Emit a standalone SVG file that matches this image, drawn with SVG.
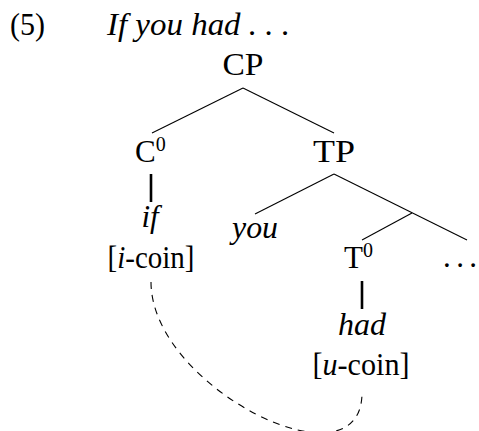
<svg xmlns="http://www.w3.org/2000/svg" width="479" height="431" viewBox="0 0 479 431">
<style>
text{font-family:"Liberation Serif","DejaVu Serif",serif;font-size:31px;fill:#000}
.it{font-style:italic}
.sup{font-size:20px}
.thin{stroke:#000;stroke-width:1.1;fill:none}
.thick{stroke:#000;stroke-width:2.6;fill:none}
.dash{stroke:#000;stroke-width:1.1;fill:none;stroke-dasharray:7 6}
</style>
<rect width="479" height="431" fill="#fff"/>
<g id="title">
<text x="10" y="35" textLength="35" lengthAdjust="spacingAndGlyphs">(5)</text>
<text x="107" y="35" class="it" textLength="183" lengthAdjust="spacingAndGlyphs">If you had . . .</text>
</g>
<g id="connectors">
<line class="thin" x1="243" y1="88" x2="152" y2="133"/>
<line class="thin" x1="243" y1="88" x2="334" y2="133"/>
<line class="thin" x1="334" y1="174" x2="255" y2="214"/>
<line class="thin" x1="334" y1="174" x2="467" y2="240"/>
<line class="thin" x1="412" y1="213" x2="362" y2="240"/>
<line class="thick" x1="151" y1="174" x2="151" y2="202"/>
<line class="thick" x1="362" y1="281" x2="362" y2="309"/>
<path class="dash" d="M151,282 C151,388 362,492 362,393"/>
</g>
<g id="CP"><text x="243" y="75" text-anchor="middle" textLength="41" lengthAdjust="spacingAndGlyphs">CP</text></g>
<g id="C0"><text x="135" y="162">C<tspan class="sup" dy="-11">0</tspan></text></g>
<g id="TP"><text x="334" y="162" text-anchor="middle" textLength="42" lengthAdjust="spacingAndGlyphs">TP</text></g>
<g id="if">
<text x="150" y="227" class="it" text-anchor="middle">if</text>
<text x="151" y="268" text-anchor="middle" textLength="87" lengthAdjust="spacingAndGlyphs">[<tspan class="it">i</tspan>-coin]</text>
</g>
<g id="you"><text x="255" y="238" class="it" text-anchor="middle" textLength="46" lengthAdjust="spacingAndGlyphs">you</text></g>
<g id="T0"><text x="344" y="268">T<tspan class="sup" dy="-11">0</tspan></text></g>
<g id="dots"><text x="443" y="267" textLength="34" lengthAdjust="spacing">. . .</text></g>
<g id="had">
<text x="362" y="335" class="it" text-anchor="middle" textLength="48" lengthAdjust="spacingAndGlyphs">had</text>
<text x="361" y="375" text-anchor="middle" textLength="97" lengthAdjust="spacingAndGlyphs">[<tspan class="it">u</tspan>-coin]</text>
</g>
</svg>
